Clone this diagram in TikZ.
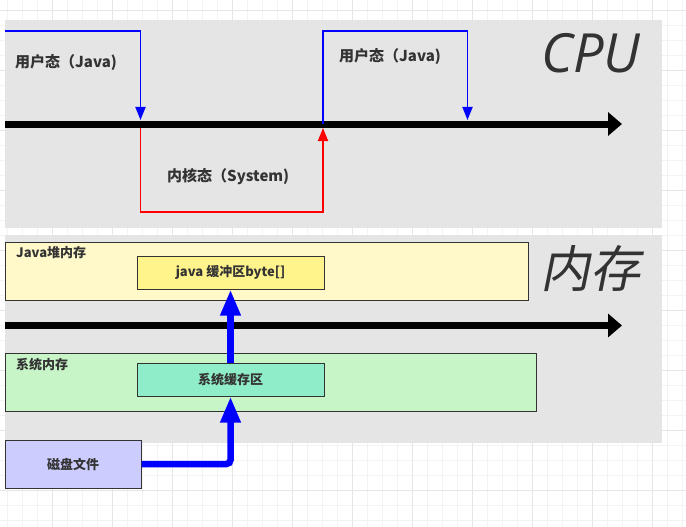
\documentclass[tikz,border=0pt]{standalone}
\usepackage{fontspec}
\setmainfont{Noto Sans CJK SC}
\newfontfamily\bigcjk{Noto Sans CJK SC}[FakeSlant=0.2]
\newfontfamily\cpufont{Open Sans}
\usetikzlibrary{arrows.meta}
\definecolor{panelgray}{HTML}{E5E5E5}
\definecolor{txt}{HTML}{333333}
\definecolor{heapfill}{HTML}{FFF9C9}
\definecolor{buffill}{HTML}{FFF38C}
\definecolor{sysfill}{HTML}{C8F5C8}
\definecolor{cachefill}{HTML}{90EDC9}
\definecolor{diskfill}{HTML}{CCCCFF}
\definecolor{gridminor}{HTML}{F3F3F3}
\definecolor{gridmajor}{HTML}{E6E6E6}
\definecolor{pureblue}{HTML}{0000FF}
\definecolor{purered}{HTML}{FF0000}
\tikzset{
  panel/.style={fill=panelgray, draw=none},
  box/.style={draw=txt, line width=1pt, text=txt, inner sep=0pt,
    font=\fontsize{13}{15}\selectfont\bfseries},
  lbl/.style={text=txt, inner sep=0pt, font=\fontsize{15}{18}\selectfont\bfseries},
  smalllbl/.style={text=txt, inner sep=0pt, font=\fontsize{13}{15}\selectfont\bfseries},
  axis/.style={line width=7pt, -{Triangle[length=14pt,width=23pt]}},
  thinblue/.style={draw=pureblue, line width=1.8pt, -{Triangle[length=13pt,width=10pt]}},
  thinred/.style={draw=purered, line width=1.8pt, -{Triangle[length=13pt,width=10pt]}},
  thickblue/.style={draw=pureblue, line width=6.5pt, rounded corners=4pt,
    -{Triangle[length=26pt,width=19pt]}},
}
\begin{document}
\begin{tikzpicture}[x=1pt,y=-1pt]
\useasboundingbox (0,0) rectangle (686,527);
\fill[white] (0,0) rectangle (686,527);
% canvas grid
\foreach \gx in {7.5,22.5,...,686} \draw[gridminor, line width=0.7pt] (\gx,0) -- (\gx,527);
\foreach \gy in {10,25,...,527} \draw[gridminor, line width=0.7pt] (0,\gy) -- (686,\gy);
\foreach \gx in {52.5,112.5,...,686} \draw[gridmajor, line width=0.7pt] (\gx,0) -- (\gx,527);
\foreach \gy in {10,70,...,527} \draw[gridmajor, line width=0.7pt] (0,\gy) -- (686,\gy);

% panels
\fill[panel] (5,20) rectangle (662,228);
\fill[panel] (5,235) rectangle (662,443);

% ---------- CPU ----------
\coordinate (cpuL) at (5,124);
\coordinate (cpuR) at (622,124);
\draw[axis] (cpuL) -- (cpuR);

\coordinate (u1s) at (5,31);
\coordinate (u1e) at (140.5,120);
\coordinate (k1s) at (140.5,127.5);
\coordinate (k1e) at (323,128);
\coordinate (u2s) at (323,124);
\coordinate (u2e) at (467.5,120);

\draw[thinblue] (u1s) -- (u1e |- u1s) -- (u1e);
\draw[thinred] (k1s) -- (140.5,212) -- (323,212) -- (k1e);
\draw[thinblue] (u2s) -- (323,31) -- (u2e |- u1s) -- (u2e);

\node[lbl, anchor=west] (user1) at (15,62.5) {用户态（Java)};
\node[lbl, anchor=west] (user2) at (339,57) {用户态（Java)};
\node[lbl, anchor=west] (kern) at (167,177) {内核态（System)};

\node[text=txt, inner sep=0pt, anchor=center,
  font=\cpufont\itshape\fontsize{54}{60}\selectfont] (cpu) at (591,53) {CPU};

% ---------- Memory ----------
\coordinate (memL) at (5,325.5);
\coordinate (memR) at (622,325.5);
\draw[axis] (memL) -- (memR);

\node[box, fill=heapfill, minimum width=523pt, minimum height=58pt] (heap) at (266.5,271) {};
\node[smalllbl, anchor=west] (heaplbl) at (16,253) {Java堆内存};
\node[box, fill=buffill, minimum width=187pt, minimum height=33pt] (buf) at (230.5,272.5) {java 缓冲区byte[]};

\node[box, fill=sysfill, minimum width=531pt, minimum height=58pt] (sysmem) at (270.5,382) {};
\node[smalllbl, anchor=west] (syslbl) at (16,365) {系统内存};
\node[box, fill=cachefill, minimum width=187pt, minimum height=33pt] (cache) at (230.5,379.5) {系统缓存区};

\node[text=txt, inner sep=0pt, anchor=center,
  font=\bigcjk\fontsize{50}{56}\selectfont] (mem) at (590,269) {内存};

\node[box, fill=diskfill, minimum width=136pt, minimum height=48pt] (disk) at (73,464) {磁盘文件};

\draw[thickblue] (disk.east) -| (cache.south);
\draw[thickblue] (cache.north) -- (buf.south);
\end{tikzpicture}
\end{document}
